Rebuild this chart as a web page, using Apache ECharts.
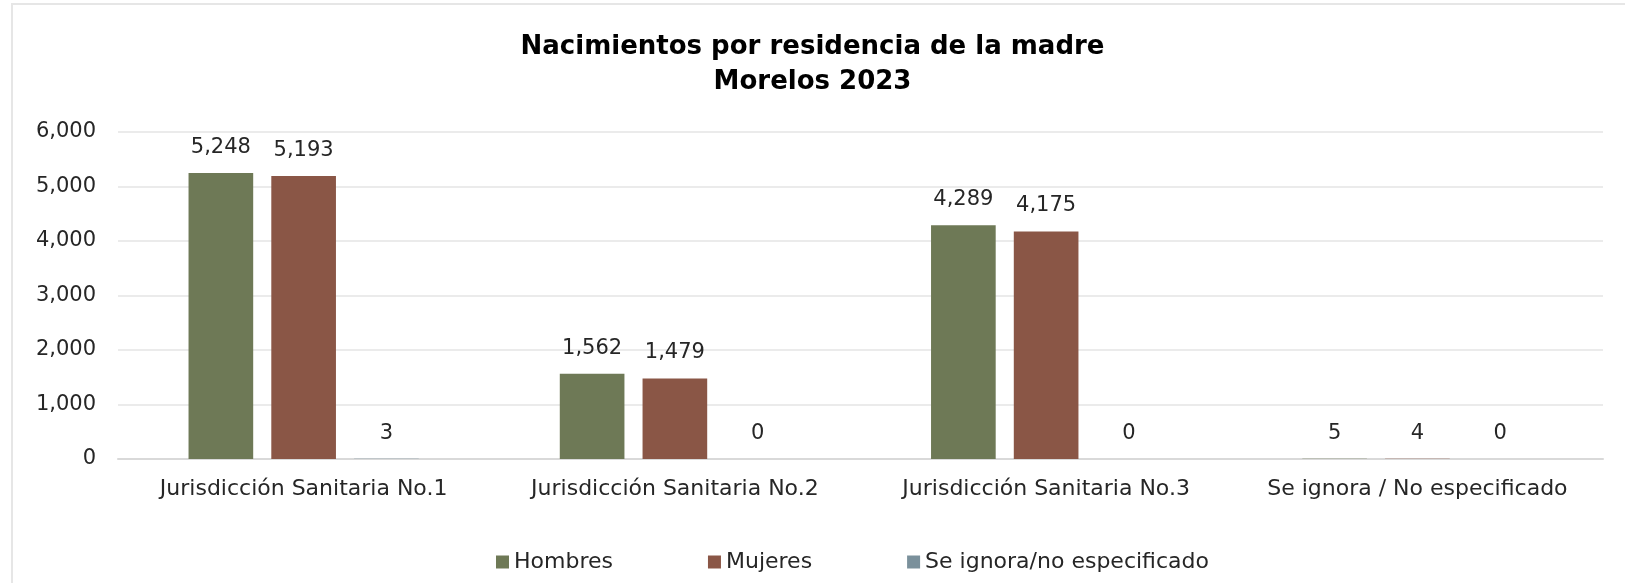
<!DOCTYPE html>
<html>
<head>
<meta charset="utf-8">
<script src="https://cdn.jsdelivr.net/npm/echarts@6/dist/echarts.min.js"></script>
<style>
	html, body { margin: 0; padding: 0; background: #fff; }
	#chart { width: 1625px; height: 583px; }
</style>
</head>
<body>
<div id="chart"></div>
<script>
// datos
var categorias = ['Jurisdicción Sanitaria No.1', 'Jurisdicción Sanitaria No.2', 'Jurisdicción Sanitaria No.3', 'Se ignora / No especificado'];
var hombres = [5248, 1562, 4289, 5];
var mujeres = [5193, 1479, 4175, 4];
var seIgnora = [3, 0, 0, 0];
var ticksY = [0, 1000, 2000, 3000, 4000, 5000, 6000];

var fuente = 'DejaVu Sans';
var colores = ['#6E7956', '#8A5646', '#7A909B'];

function formato(v) {
	return Number(v).toLocaleString('en-US');
}

function serie(nombre, datos, color) {
	return {
		name: nombre,
		type: 'bar',
		data: datos,
		itemStyle: { color: color },
		barGap: '28%',
		barCategoryGap: '38%',
		label: {
			show: true,
			position: 'top',
			distance: 15,
			color: '#262626',
			fontFamily: fuente,
			fontSize: 21,
			formatter: function(p) { return formato(p.value); }
		}
	};
}

var chart = echarts.init(document.getElementById('chart'));
chart.setOption({
	animation: false,
	textStyle: { fontFamily: fuente },
	title: {
		text: 'Nacimientos por residencia de la madre\nMorelos 2023',
		left: 'center',
		top: 25,
		textStyle: {
			fontFamily: fuente,
			fontWeight: 'bold',
			fontSize: 26,
			lineHeight: 35,
			color: '#000'
		}
	},
	graphic: [{
		type: 'rect',
		shape: { x: 12, y: 4, width: 1700, height: 700 },
		style: { fill: 'none', stroke: '#E6E6E6', lineWidth: 2 },
		silent: true
	}],
	legend: {
		left: 491,
		top: 546,
		itemWidth: 13,
		itemHeight: 13,
		itemGap: 95,
		icon: 'rect',
		textStyle: { fontFamily: fuente, fontSize: 22, color: '#262626' },
		data: ['Hombres', 'Mujeres', 'Se ignora/no especificado']
	},
	grid: { left: 118, right: 22, top: 132, bottom: 124, containLabel: false },
	xAxis: {
		type: 'category',
		data: categorias,
		axisTick: { show: false },
		axisLine: { lineStyle: { color: '#D9D9D9', width: 2 } },
		axisLabel: { color: '#262626', fontSize: 22, fontFamily: fuente, margin: 19, interval: 0 }
	},
	yAxis: {
		type: 'value',
		min: ticksY[0],
		max: ticksY[ticksY.length - 1],
		interval: 1000,
		axisLine: { show: false },
		axisTick: { show: false },
		splitLine: { lineStyle: { color: '#EBEBEB', width: 2 } },
		axisLabel: {
			color: '#262626', fontSize: 21, fontFamily: fuente, margin: 22,
			formatter: function(v) { return formato(v); }
		}
	},
	series: [
		serie('Hombres', hombres, colores[0]),
		serie('Mujeres', mujeres, colores[1]),
		serie('Se ignora/no especificado', seIgnora, colores[2])
	]
});
</script>
</body>
</html>
